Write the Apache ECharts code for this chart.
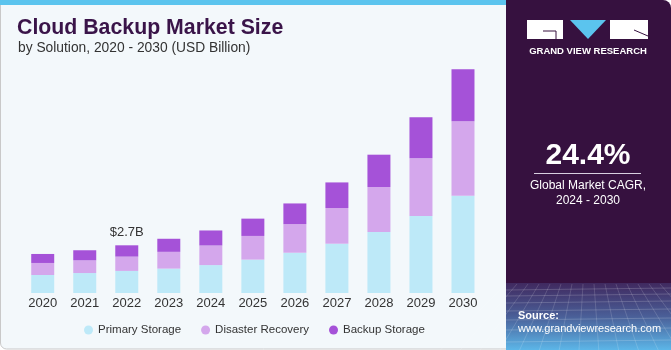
<!DOCTYPE html>
<html lang="en">
<head>
    <meta charset="UTF-8">
    <title>Cloud Backup Market Size</title>
    <script src="https://cdn.jsdelivr.net/npm/echarts@6.0.0/dist/echarts.min.js"></script>
    <style>
        html, body { margin: 0; padding: 0; background: #ffffff; }
    </style>
</head>
<body>
    <div id="main" style="width: 671px;height:350px;"></div>
    <script type="text/javascript">
        // values in USD billion
        var years = ['2020', '2021', '2022', '2023', '2024', '2025', '2026', '2027', '2028', '2029', '2030'];
        var primaryStorage = [1.02, 1.13, 1.25, 1.38, 1.58, 1.89, 2.28, 2.79, 3.45, 4.36, 5.51];
        var disasterRecovery = [0.68, 0.72, 0.81, 0.95, 1.11, 1.34, 1.62, 2.02, 2.55, 3.27, 4.21];
        var backupStorage = [0.51, 0.57, 0.64, 0.74, 0.85, 0.98, 1.17, 1.45, 1.83, 2.32, 2.94];
        var seriesNames = ['Primary Storage', 'Disaster Recovery', 'Backup Storage'];
        var colors = ['#bde9f8', '#d4a7ec', '#a552d8'];
        var calloutIndex = 2;
        var calloutText = '$2.7B';

        var font = '"Liberation Sans", Arial, sans-serif';

        // decorative grid texture at the bottom of the right panel
        var texture = [];
        var hy = [290, 296, 303, 311, 320, 330, 342];
        hy.forEach(function (y) {
            texture.push({
                type: 'line', silent: true,
                shape: { x1: 506, y1: y, x2: 671, y2: y - 2 },
                style: { stroke: 'rgba(255,255,255,0.18)', lineWidth: 1 }
            });
        });
        for (var i = 0; i < 16; i++) {
            var xt = 506 + i * 11;
            texture.push({
                type: 'line', silent: true,
                shape: { x1: xt, y1: 284, x2: 588 + (xt - 588) * 1.8, y2: 350 },
                style: { stroke: 'rgba(255,255,255,0.15)', lineWidth: 1 }
            });
        }

        var myChart = echarts.init(document.getElementById('main'));

        function barData(values, withCallout) {
            return values.map(function (v, idx) {
                if (withCallout && idx === calloutIndex) {
                    return {
                        value: v,
                        label: {
                            show: true, position: 'top', distance: 6,
                            formatter: calloutText, color: '#333333',
                            fontSize: 13, fontFamily: font
                        }
                    };
                }
                return v;
            });
        }

        var option = {
            animation: false,
            backgroundColor: '#ffffff',
            graphic: [
                // left panel
                {
                    type: 'rect', silent: true, z: -10,
                    shape: { x: 0.5, y: 0, width: 520, height: 349, r: [0, 0, 0, 6] },
                    style: { fill: '#f3f8fb', stroke: '#c9c9c9', lineWidth: 1 }
                },
                {
                    type: 'rect', silent: true, z: -9,
                    shape: { x: 0, y: 0, width: 506, height: 5 },
                    style: { fill: '#5bc4ee' }
                },
                // right panel
                {
                    type: 'rect', silent: true, z: -8,
                    shape: { x: 506, y: 0, width: 165, height: 350, r: [0, 8, 0, 0] },
                    style: { fill: '#36113f' }
                },
                {
                    type: 'rect', silent: true, z: -7,
                    shape: { x: 506, y: 283, width: 165, height: 67 },
                    style: {
                        fill: {
                            type: 'linear', x: 0, y: 0, x2: 0, y2: 1,
                            colorStops: [
                                { offset: 0, color: '#40295f' },
                                { offset: 0.5, color: '#4a5f98' },
                                { offset: 1, color: '#5cb6e8' }
                            ]
                        }
                    }
                },
                { type: 'group', silent: true, z: -6, children: texture },
                // logo
                {
                    type: 'rect', silent: true,
                    shape: { x: 527, y: 20, width: 36, height: 19 },
                    style: { fill: '#ffffff' }
                },
                {
                    type: 'polyline', silent: true,
                    shape: { points: [[543, 31], [556, 31], [556, 39]] },
                    style: { stroke: '#36113f', lineWidth: 1, fill: null }
                },
                {
                    type: 'polygon', silent: true,
                    shape: { points: [[570, 20], [606, 20], [588, 39]] },
                    style: { fill: '#5bc4ee' }
                },
                {
                    type: 'rect', silent: true,
                    shape: { x: 610, y: 20, width: 38, height: 19 },
                    style: { fill: '#ffffff' }
                },
                {
                    type: 'line', silent: true,
                    shape: { x1: 634, y1: 30, x2: 648, y2: 36 },
                    style: { stroke: '#36113f', lineWidth: 1 }
                },
                {
                    type: 'text', silent: true,
                    style: {
                        x: 588, y: 51, text: 'GRAND VIEW RESEARCH',
                        textAlign: 'center', textVerticalAlign: 'middle',
                        fill: '#ffffff', font: 'bold 9.5px ' + font
                    }
                },
                // CAGR block
                {
                    type: 'text', silent: true,
                    style: {
                        x: 588, y: 156, text: '24.4%',
                        textAlign: 'center', textVerticalAlign: 'middle',
                        fill: '#ffffff', font: 'bold 30px ' + font
                    }
                },
                {
                    type: 'line', silent: true,
                    shape: { x1: 534, y1: 173.5, x2: 641, y2: 173.5 },
                    style: { stroke: '#d8cfe0', lineWidth: 1 }
                },
                {
                    type: 'text', silent: true,
                    style: {
                        x: 588, y: 186, text: 'Global Market CAGR,',
                        textAlign: 'center', textVerticalAlign: 'middle',
                        fill: '#ffffff', font: '12px ' + font
                    }
                },
                {
                    type: 'text', silent: true,
                    style: {
                        x: 588, y: 201, text: '2024 - 2030',
                        textAlign: 'center', textVerticalAlign: 'middle',
                        fill: '#ffffff', font: '12px ' + font
                    }
                },
                // source
                {
                    type: 'text', silent: true,
                    style: {
                        x: 518, y: 316, text: 'Source:',
                        textVerticalAlign: 'middle',
                        fill: '#ffffff', font: 'bold 11px ' + font
                    }
                },
                {
                    type: 'text', silent: true,
                    style: {
                        x: 518, y: 329, text: 'www.grandviewresearch.com',
                        textVerticalAlign: 'middle',
                        fill: '#ffffff', font: '11px ' + font
                    }
                },
                // titles
                {
                    type: 'text', silent: true,
                    style: {
                        x: 17, y: 28, text: 'Cloud Backup Market Size',
                        textVerticalAlign: 'middle',
                        fill: '#3a1449', font: 'bold 21.3px ' + font
                    }
                },
                {
                    type: 'text', silent: true,
                    style: {
                        x: 18, y: 48, text: 'by Solution, 2020 - 2030 (USD Billion)',
                        textVerticalAlign: 'middle',
                        fill: '#333333', font: '13.8px ' + font
                    }
                }
            ],
            legend: {
                data: seriesNames,
                left: 79, top: 319,
                icon: 'circle',
                itemWidth: 9, itemHeight: 9,
                itemGap: 20,
                textStyle: { color: '#333333', fontSize: 11.5, fontFamily: font }
            },
            grid: { left: 21.7, top: 45.7, width: 462.3, height: 247.3 },
            xAxis: {
                type: 'category',
                data: years,
                axisLine: { show: false },
                axisTick: { show: false },
                axisLabel: { color: '#333333', fontSize: 13, fontFamily: font, margin: 4 }
            },
            yAxis: {
                type: 'value',
                min: 0, max: 14,
                show: false,
                splitLine: { show: false }
            },
            series: [
                {
                    name: seriesNames[0], type: 'bar', stack: 'total',
                    barWidth: 23, data: barData(primaryStorage, false),
                    itemStyle: { color: colors[0] }
                },
                {
                    name: seriesNames[1], type: 'bar', stack: 'total',
                    barWidth: 23, data: barData(disasterRecovery, false),
                    itemStyle: { color: colors[1] }
                },
                {
                    name: seriesNames[2], type: 'bar', stack: 'total',
                    barWidth: 23, data: barData(backupStorage, true),
                    itemStyle: { color: colors[2] }
                }
            ]
        };
        myChart.setOption(option);
    </script>
</body>
</html>
